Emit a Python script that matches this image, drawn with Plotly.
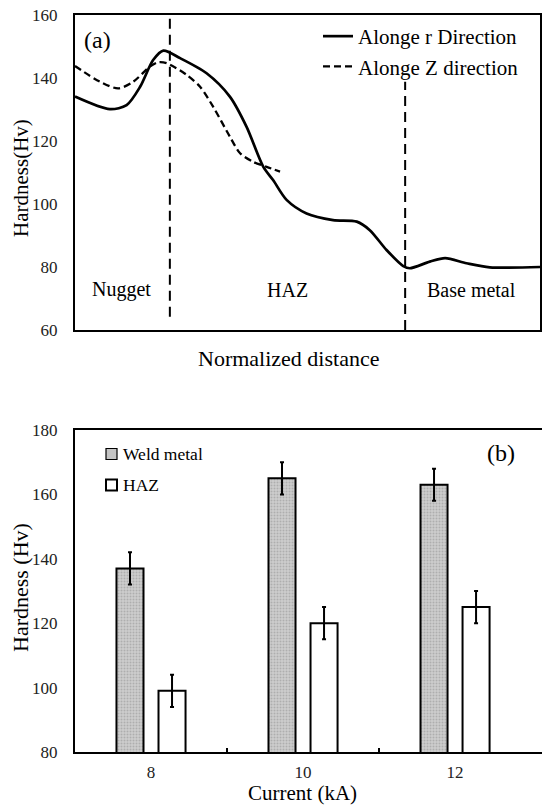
import plotly.graph_objects as go

W, H = 542, 805
FONT = "Liberation Serif, Times New Roman, serif"

# ---- (a) hardness profile along the normalized distance ----
r_dist = [0.0, 0.075, 0.111, 0.140, 0.168, 0.190, 0.226, 0.283, 0.333, 0.369,
          0.405, 0.426, 0.455, 0.498, 0.555, 0.606, 0.634, 0.670, 0.706, 0.720,
          0.763, 0.796, 0.842, 0.892, 1.0]
r_hv = [134.1, 130.1, 131.4, 137.2, 145.7, 148.7, 146.3, 141.5, 134.1, 124.5,
        111.8, 107.6, 101.3, 97.0, 94.9, 94.4, 91.7, 85.4, 80.3, 79.6,
        81.7, 82.8, 81.2, 79.9, 80.0]

z_dist = [0.0, 0.054, 0.093, 0.125, 0.161, 0.179, 0.197, 0.240, 0.269, 0.297,
          0.333, 0.355, 0.383, 0.412, 0.441]
z_hv = [143.8, 138.8, 136.7, 138.8, 143.6, 145.0, 144.7, 141.0, 137.2, 130.9,
        121.4, 116.1, 113.4, 111.8, 110.3]

# zone boundaries (x position, y start, y end)
bound_x = [0.204, 0.710]
bound_y0 = [64.2, 60.0]
bound_y1 = [160.0, 138.8]

zone_names = ["Nugget", "HAZ", "Base metal"]
zone_x = [0.101, 0.456, 0.852]
zone_y = [72.7, 72.7, 72.7]

# ---- (b) hardness vs welding current ----
current = ["8", "10", "12"]
weld_hv = [137, 165, 163]
weld_err = [5, 5, 5]
haz_hv = [99, 120, 125]
haz_err = [5, 5, 5]

WELD_FILL = "#c4c4c4"

fig = go.Figure()

fig.add_trace(go.Scatter(
    x=r_dist, y=r_hv, mode="lines", name="Alonge r Direction",
    line=dict(color="black", width=2.7, shape="spline", smoothing=0.8),
    xaxis="x", yaxis="y", legend="legend"))
fig.add_trace(go.Scatter(
    x=z_dist, y=z_hv, mode="lines", name="Alonge Z direction",
    line=dict(color="black", width=2.3, dash="7px,4px", shape="spline", smoothing=0.8),
    xaxis="x", yaxis="y", legend="legend"))

for bx, b0, b1 in zip(bound_x, bound_y0, bound_y1):
    fig.add_trace(go.Scatter(
        x=[bx, bx], y=[b0, b1], mode="lines", showlegend=False,
        line=dict(color="black", width=2, dash="10px,6px"),
        xaxis="x", yaxis="y", hoverinfo="skip"))

pos = list(range(len(current)))
fig.add_trace(go.Bar(
    x=pos, y=weld_hv, name="Weld metal", showlegend=False,
    error_y=dict(type="data", array=weld_err, color="black", thickness=2, width=2),
    marker=dict(color=WELD_FILL, line=dict(color="black", width=2),
                pattern=dict(shape=".", fgcolor="#8f8f8f", bgcolor="#cdcdcd",
                             size=3, solidity=0.35)),
    xaxis="x2", yaxis="y2"))
fig.add_trace(go.Bar(
    x=pos, y=haz_hv, name="HAZ", showlegend=False,
    error_y=dict(type="data", array=haz_err, color="black", thickness=2, width=2),
    marker=dict(color="white", line=dict(color="black", width=2)),
    xaxis="x2", yaxis="y2"))

def py(p):
    return 1 - p / H

def px(p):
    return p / W

axis_font = dict(family=FONT, size=17, color="#222")

fig.update_layout(
    width=W, height=H,
    margin=dict(l=0, r=0, t=0, b=0),
    paper_bgcolor="white", plot_bgcolor="white",
    font=dict(family=FONT, color="black"),
    barmode="group", bargap=0.447, bargroupgap=0.357,
    xaxis=dict(domain=[px(75), px(540)], range=[0, 1], showticklabels=False,
               anchor="y", automargin=False,
               ticks="", showgrid=False, zeroline=False,
               showline=True, linecolor="black", linewidth=2, mirror=True),
    yaxis=dict(domain=[py(330), py(15)], range=[60, 160], tickvals=[60, 80, 100, 120, 140, 160],
               anchor="x", automargin=False,
               ticks="", showgrid=False, zeroline=False, tickfont=axis_font,
               ticklabelstandoff=12,
               showline=True, linecolor="black", linewidth=2, mirror=True),
    xaxis2=dict(domain=[px(75), 1.0], range=[-0.5, 2.572], tickvals=pos, ticktext=current,
                anchor="y2", automargin=False,
                ticks="", showgrid=False, zeroline=False, tickfont=axis_font,
                ticklabelstandoff=4,
                minor=dict(tickvals=[0.5, 1.5], ticks="inside", ticklen=4,
                           tickwidth=1.5, tickcolor="black"),
                showline=True, linecolor="black", linewidth=2, mirror=True),
    yaxis2=dict(domain=[py(752), py(430)], range=[80, 180], tickvals=[80, 100, 120, 140, 160, 180],
                anchor="x2", automargin=False,
                ticks="", showgrid=False, zeroline=False, tickfont=axis_font,
                ticklabelstandoff=12,
                showline=True, linecolor="black", linewidth=2),
    legend=dict(x=px(318), y=py(16), xanchor="left", yanchor="top",
                bgcolor="rgba(0,0,0,0)", font=dict(family=FONT, size=21, color="black"),
                itemwidth=30, tracegroupgap=0),
)

def label(x, y, text, size, angle=0, anchor="center"):
    return dict(x=x, y=y, xref="paper", yref="paper", text=text, textangle=angle,
                xanchor=anchor, yanchor="middle", showarrow=False,
                font=dict(family=FONT, size=size, color="black"))

# legend for panel (b): small swatches beside the series names
shapes = []
ann = []
legend_b = [("Weld metal", WELD_FILL, 454), ("HAZ", "white", 485)]
for name, fill, yc in legend_b:
    shapes.append(dict(type="rect", xref="paper", yref="paper",
                       x0=px(106), x1=px(117), y0=py(yc + 5.5), y1=py(yc - 5.5),
                       fillcolor=fill, line=dict(color="black", width=2 if fill == "white" else 1.2)))
    ann.append(label(px(121), py(yc), name, 17.5, anchor="left"))

for name, zx, zy in zip(zone_names, zone_x, zone_y):
    ann.append(dict(x=zx, y=zy, xref="x", yref="y", text=name, showarrow=False,
                    xanchor="center", yanchor="middle",
                    font=dict(family=FONT, size=20, color="black")))
ann += [
    label(px(97), py(40), "(a)", 24),
    label(px(501), py(453), "(b)", 24),
    label(px(21), py(178), "Hardness(Hv)", 21, angle=-90),
    label(px(20), py(588), "Hardness (Hv)", 22, angle=-90),
    label(px(288), py(358), "Normalized distance", 22),
    label(px(302), py(793), "Current (kA)", 21),
]
fig.update_layout(annotations=ann, shapes=shapes)

fig.write_html("out.html")
